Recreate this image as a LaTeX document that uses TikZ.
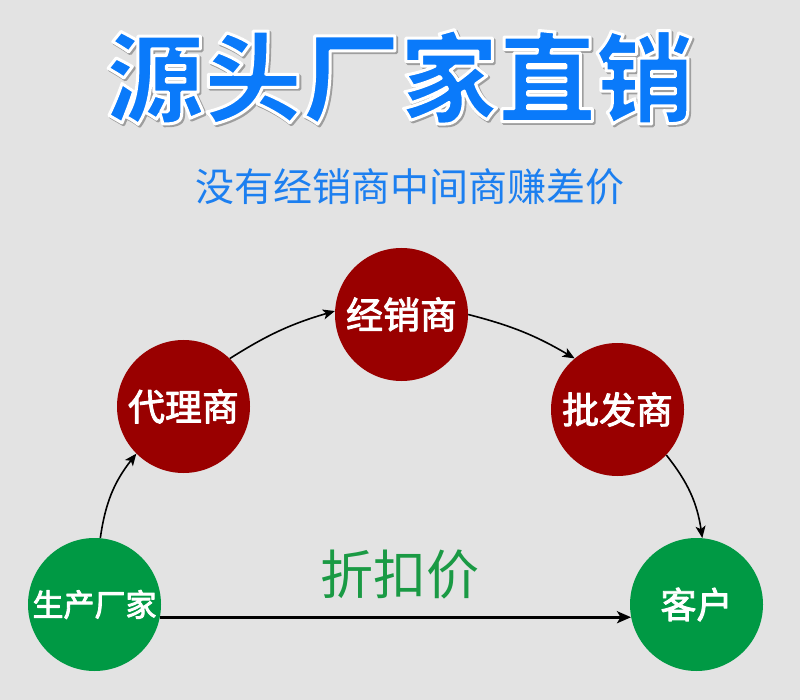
\documentclass[tikz,border=0pt]{standalone}
\usepackage{fontspec}
\newfontfamily\cjk{Noto Sans CJK SC}
\usetikzlibrary{arrows.meta}
\definecolor{bgc}{HTML}{E3E3E3}
\definecolor{titleblue}{HTML}{0A7AFA}
\definecolor{subblue}{HTML}{1C7FF0}
\definecolor{darkred}{HTML}{990000}
\definecolor{mygreen}{HTML}{009944}
\definecolor{labgreen}{HTML}{1A9A44}
\newcommand\rimtext[1]{\special{pdf:literal direct 2 Tr 3 w 1 j 1 1 1 RG}#1\special{pdf:literal direct 0 Tr}}
\newcommand\shadowtext[1]{\special{pdf:literal direct 2 Tr 3.4 w 1 j 0.62 0.62 0.62 RG}#1\special{pdf:literal direct 0 Tr}}
\newcommand\fattext[1]{\special{pdf:literal direct 2 Tr 0.9 w 1 j}#1\special{pdf:literal direct 0 Tr}}
\begin{document}
\begin{tikzpicture}[x=1pt,y=-1pt,
  redball/.style={circle,fill=darkred,minimum size=133pt,inner sep=0pt,text=white,font=\cjk\fontsize{37}{40}\selectfont},
  greenball/.style={circle,fill=mygreen,minimum size=133pt,inner sep=0pt,text=white,font=\cjk\fontsize{36}{40}\selectfont},
  flow/.style={-{Stealth[length=12pt,width=10pt,inset=3pt]},line width=1.6pt,black},
  direct/.style={-{Stealth[length=14pt,width=12pt,inset=3.5pt]},line width=3pt,black},
  titlefont/.style={font=\cjk\bfseries\fontsize{98}{100}\selectfont,inner sep=0pt}
]
\fill[bgc] (0,0) rectangle (800,700);
\useasboundingbox (0,0) rectangle (800,700);
% title with soft shadow and white rim
\node[titlefont,text=black!38] (tshadow) at (401.6,78.6) {\shadowtext{源头厂家直销}};
\node[titlefont,text=titleblue] (title) at (400,77) {\rimtext{源头厂家直销}};
\node[font=\cjk\fontsize{39}{42}\selectfont,text=subblue,inner sep=0pt] (sub) at (410,187) {没有经销商中间商赚差价};
% circles
\node[greenball,font=\cjk\fontsize{31}{34}\selectfont] (maker) at (94.5,604.5) {\fattext{生产厂家}};
\node[redball] (agent) at (183.5,406.5) {\fattext{代理商}};
\node[redball] (dealer) at (401.5,314.5) {\fattext{经销商}};
\node[redball] (whole) at (617.5,409.5) {\fattext{批发商}};
\node[greenball] (client) at (696.5,604.5) {\fattext{客户}};
\node[font=\cjk\fontsize{53}{56}\selectfont,text=labgreen,inner sep=0pt] (disc) at (400,575) {折扣价};
% connectors
\draw[flow] (maker.85) to[bend left=15] (agent.225);
\draw[flow] (agent.46) to[bend left=8] (dealer.177);
\draw[flow] (dealer.0) to[bend left=8] (whole.130);
\draw[flow] (whole.-43) to[bend left=15] (client.85);
\draw[direct] (maker.-11) -- (client.191);
\end{tikzpicture}
\end{document}
